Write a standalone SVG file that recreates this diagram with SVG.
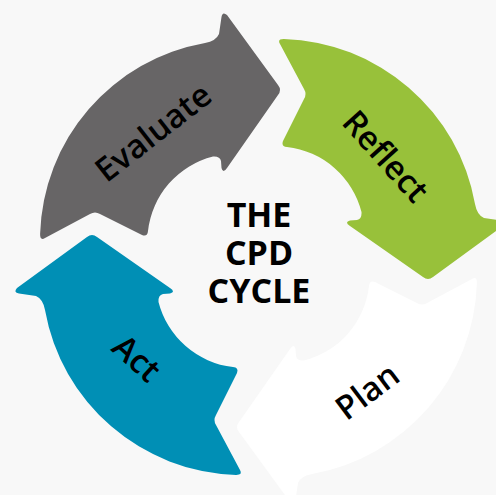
<svg xmlns="http://www.w3.org/2000/svg" width="496" height="495" viewBox="0 0 496 495">
<style>
.bg{fill:#f8f8f8}
.gray{fill:#676566}
.green{fill:#98c13a}
.white{fill:#ffffff}
.teal{fill:#008fb5}
.lbl{font-family:"Open Sans","Noto Sans","DejaVu Sans",sans-serif;font-weight:600;font-size:33px;fill:#000;text-anchor:middle}
.title{font-family:"Open Sans","Noto Sans","DejaVu Sans",sans-serif;font-weight:700;font-size:34px;fill:#000;text-anchor:middle}
</style>
<defs>
<path id="arrow" d="M40.1,234 A200,200 0 0 1 205,43 Q216,41 219,34 L221.5,17 Q222.5,11 227,15 L278,85 Q282,90 278,95 L227,168 Q223,174 221.5,168 L221,161 Q220,156 213,156.5 A87,87 0 0 0 148,231 Q147.5,237 142,235 L100,214 Q95,211 90,214 L45,238 Q40,241 40.1,234 Z"/>
</defs>
<rect class="bg" x="0" y="0" width="496" height="495"/>
<g id="evaluate">
<use href="#arrow" class="gray"/>
<text class="lbl" x="153" y="132" dy="12" transform="rotate(-38 153 132)">Evaluate</text>
</g>
<g id="reflect">
<use href="#arrow" class="green" transform="rotate(90 259.5 258.5)"/>
<text class="lbl" x="386" y="156" dy="12" transform="rotate(48 386 156)">Reflect</text>
</g>
<g id="plan">
<use href="#arrow" class="white" transform="rotate(180 258.5 258.5)"/>
<text class="lbl" x="367" y="391" dy="12" transform="rotate(-37 367 391)">Plan</text>
</g>
<g id="act">
<use href="#arrow" class="teal" transform="rotate(-90 258.5 256.5)"/>
<text class="lbl" x="137" y="358" dy="12" transform="rotate(42 137 358)">Act</text>
</g>
<g id="title">
<text class="title" x="259" y="227">THE</text>
<text class="title" x="259" y="265">CPD</text>
<text class="title" x="259" y="303">CYCLE</text>
</g>
</svg>
